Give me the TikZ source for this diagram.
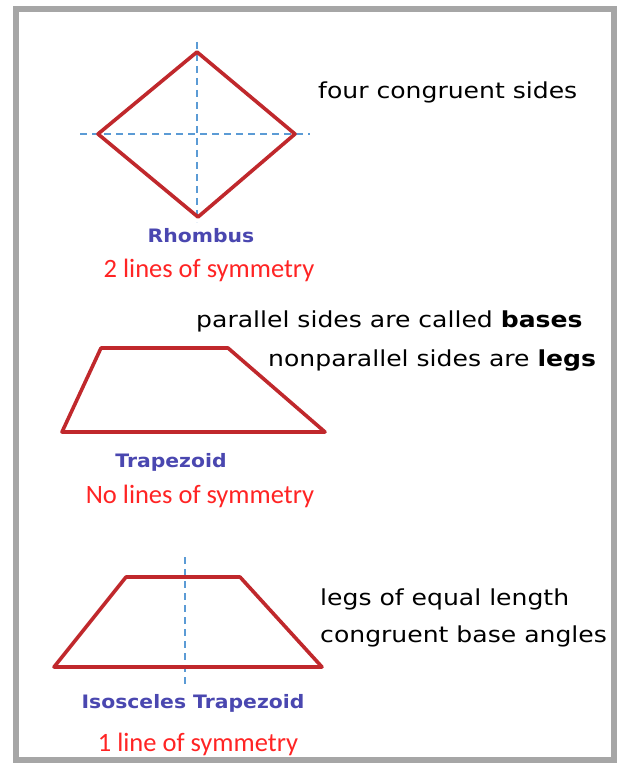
\documentclass[tikz,border=0pt]{standalone}
\usepackage{fontspec}
\setmainfont[FakeStretch=1.14]{DejaVu Sans}
\newfontfamily\calib{Carlito}
\newfontfamily\lbl[FakeStretch=1.1]{DejaVu Sans}
\definecolor{shapered}{HTML}{C0282C}
\definecolor{symblue}{HTML}{5B9BD5}
\definecolor{lblblue}{HTML}{4A47B0}
\definecolor{txtred}{HTML}{FF2424}
\definecolor{framegray}{HTML}{A6A6A6}
\tikzset{
  shapeline/.style={draw=shapered, line width=3.6pt, line join=round},
  symline/.style={draw=symblue, line width=1.8pt, dash pattern=on 7pt off 5pt},
  note/.style={inner sep=0pt, anchor=mid west, font=\fontsize{22}{26}\selectfont},
  namelbl/.style={inner sep=0pt, text=lblblue, font=\lbl\bfseries\fontsize{18.5}{22}\selectfont},
  symtxt/.style={inner sep=0pt, text=txtred, font=\calib\fontsize{26.5}{30}\selectfont},
}
\begin{document}
\begin{tikzpicture}[x=1pt,y=-1pt]
\useasboundingbox (0,0) rectangle (624,767);
\fill[white] (0,0) rectangle (624,767);
\draw[framegray, line width=6pt] (16,9) rectangle (614,760);
% Rhombus
\coordinate (rt) at (197,52);
\coordinate (rl) at (98,134);
\coordinate (rr) at (295,134);
\coordinate (rb) at (198,217);
\draw[symline] (197,42) -- (197,222);
\draw[symline] (80,134) -- (310,134);
\draw[shapeline] (rt) -- (rr) -- (rb) -- (rl) -- cycle;
\node[note] (n1) at (318,96) {four congruent sides};
\node[namelbl] (l1) at (201,236) {Rhombus};
\node[symtxt] (s1) at (209,270) {2 lines of symmetry};
% Trapezoid
\coordinate (tl) at (101,348);
\coordinate (tr) at (228,348);
\coordinate (br) at (325,432);
\coordinate (bl) at (62,432);
\draw[shapeline] (tl) -- (tr) -- (br) -- (bl) -- cycle;
\node[note] (n2) at (196,325) {parallel sides are called \textbf{bases}};
\node[note] (n3) at (268,364) {nonparallel sides are \textbf{legs}};
\node[namelbl] (l2) at (171,462) {Trapezoid};
\node[symtxt] (s2) at (200,496) {No lines of symmetry};
% Isosceles trapezoid
\coordinate (il) at (126,577);
\coordinate (ir) at (240,577);
\coordinate (ibr) at (322,667);
\coordinate (ibl) at (54,667);
\draw[symline] (185,557) -- (185,686);
\draw[shapeline] (il) -- (ir) -- (ibr) -- (ibl) -- cycle;
\node[note] (n4) at (320,603) {legs of equal length};
\node[note] (n5) at (320,640) {congruent base angles};
\node[namelbl] (l3) at (193,703) {Isosceles Trapezoid};
\node[symtxt] (s3) at (198,744) {1 line of symmetry};
\end{tikzpicture}
\end{document}
